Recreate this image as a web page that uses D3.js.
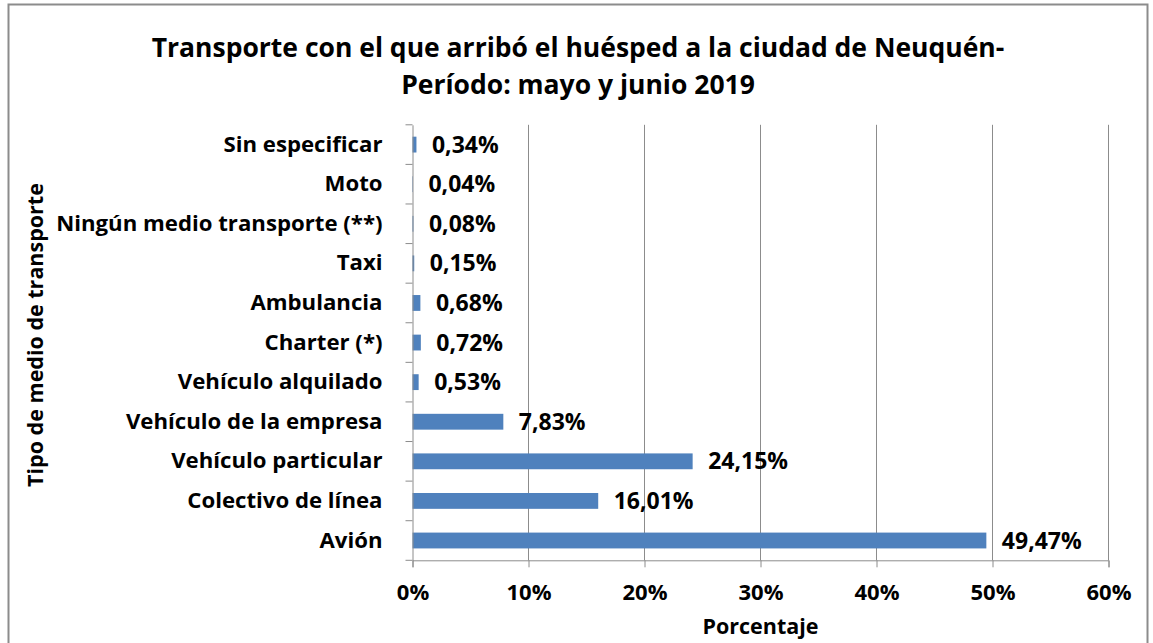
<!DOCTYPE html>
<html><head><meta charset="utf-8">
<script src="https://cdn.jsdelivr.net/npm/d3@7"></script>
<style>body{margin:0;background:#fff}svg{display:block}text{font-family:"Open Sans",Lato,sans-serif;font-weight:bold;fill:#000}</style>
</head><body>
<svg id="c" width="1153" height="643"></svg>
<script>
const categories = ["Sin especificar","Moto","Ningún medio transporte (**)","Taxi","Ambulancia","Charter (*)","Vehículo alquilado","Vehículo de la empresa","Vehículo particular","Colectivo de línea","Avión"];
const values = [0.34,0.04,0.08,0.15,0.68,0.72,0.53,7.83,24.15,16.01,49.47];
const valueLabels = ["0,34%","0,04%","0,08%","0,15%","0,68%","0,72%","0,53%","7,83%","24,15%","16,01%","49,47%"];
const xTicks = [0,10,20,30,40,50,60];
const titleLines = ["Transporte con el que arribó el huésped a la ciudad de Neuquén-","Período: mayo y junio 2019"];
const xTitle = "Porcentaje";
const yTitle = "Tipo de medio de transporte";

const FONT = "'Open Sans', Lato, sans-serif";
const svg = d3.select("#c");
svg.append("rect").attr("x",8.5).attr("y",4.5).attr("width",1139).attr("height",650).attr("fill","#fff").attr("stroke","#8c8c8c").attr("stroke-width",2);

const m = {left:412.5, right:1108.5, top:124.8, bottom:560.3};
const x = d3.scaleLinear().domain([0,60]).range([m.left,m.right]);
const y = d3.scaleBand().domain(categories).range([m.top,m.bottom]).paddingInner(0.6).paddingOuter(0.3);
const yb = d3.scaleBand().domain(categories).range([m.top,m.bottom]);

// gridlines
svg.append("g").selectAll("line").data(xTicks.slice(1)).join("line")
  .attr("x1",d=>x(d)).attr("x2",d=>x(d)).attr("y1",m.top).attr("y2",m.bottom)
  .attr("stroke","#8c8c8c").attr("stroke-width",1);

// bars
svg.append("g").selectAll("rect").data(values).join("rect")
  .attr("x",x(0)).attr("y",(d,i)=>y(categories[i])).attr("width",d=>x(d)-x(0)).attr("height",y.bandwidth())
  .attr("fill","#4f81bd");

// x axis
const xa = svg.append("g").attr("transform",`translate(0,${m.bottom})`)
  .call(d3.axisBottom(x).tickValues(xTicks).tickFormat(d=>d+"%").tickSize(7).tickPadding(17));
xa.select(".domain").attr("stroke","#8c8c8c");
xa.selectAll(".tick line").attr("stroke","#8c8c8c");
xa.selectAll("text").attr("font-size",22).attr("font-family",FONT).attr("font-weight","bold").attr("fill","#000");

// y axis
const ya = svg.append("g").attr("transform",`translate(${m.left},0)`)
  .call(d3.axisLeft(yb).tickSize(0).tickPadding(30));
ya.select(".domain").attr("stroke","#8c8c8c");
ya.selectAll("text").attr("font-size",22.2).attr("font-family",FONT).attr("font-weight","bold").attr("fill","#000");
// category separator ticks
svg.append("g").selectAll("line").data(d3.range(categories.length+1)).join("line")
  .attr("x1",m.left-7).attr("x2",m.left).attr("y1",i=>i<categories.length?yb(categories[i]):m.bottom).attr("y2",i=>i<categories.length?yb(categories[i]):m.bottom)
  .attr("stroke","#8c8c8c");

// value labels
svg.append("g").selectAll("text").data(values).join("text")
  .attr("x",d=>x(d)+15.5).attr("y",(d,i)=>yb(categories[i])+yb.bandwidth()/2).attr("dy","0.35em")
  .attr("font-size",23).text((d,i)=>valueLabels[i]);

// titles
svg.append("g").selectAll("text").data(titleLines).join("text")
  .attr("x",578).attr("y",(d,i)=>57+i*37).attr("text-anchor","middle").attr("font-size",26.5).text(d=>d);
svg.append("text").attr("x",(m.left+m.right)/2).attr("y",634).attr("text-anchor","middle").attr("font-size",21.5).text(xTitle);
svg.append("text").attr("transform",`translate(43,335) rotate(-90)`).attr("text-anchor","middle").attr("font-size",21.5).text(yTitle);
</script>
</body></html>
